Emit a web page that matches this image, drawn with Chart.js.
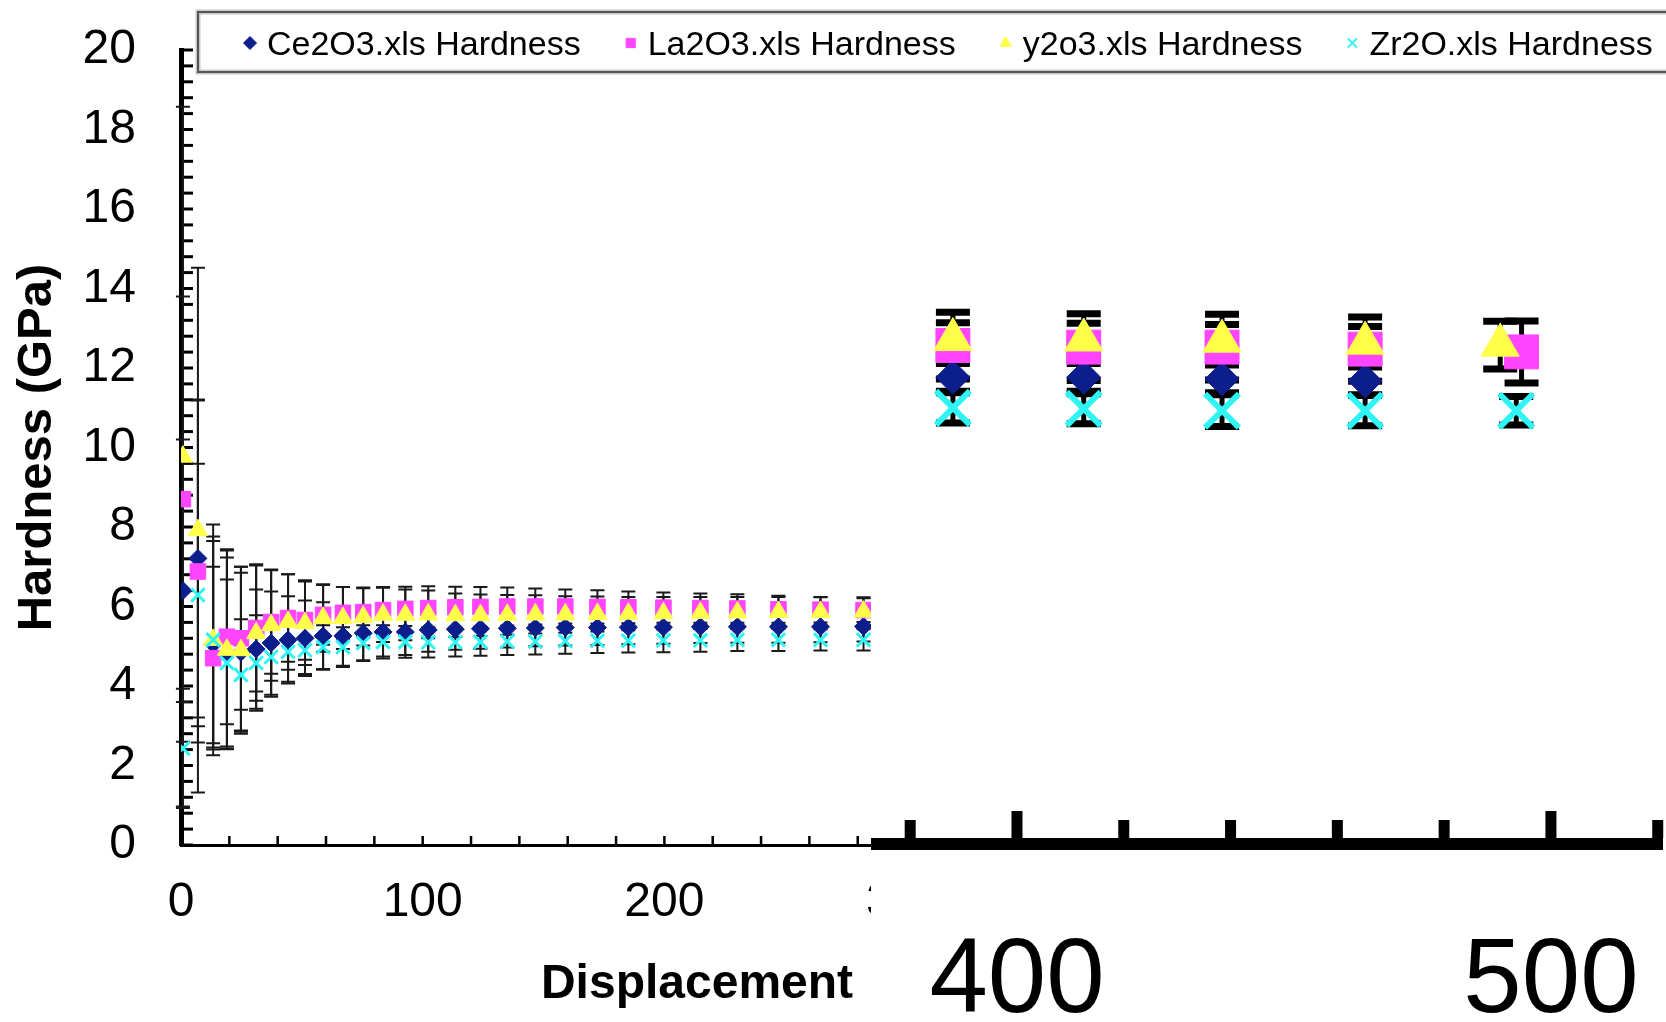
<!DOCTYPE html>
<html>
<head>
<meta charset="utf-8">
<script src="https://cdn.jsdelivr.net/npm/chart.js@4.4.1/dist/chart.umd.min.js"></script>
<style>
  body { margin: 0; background: #fff; }
  #wrap { position: relative; width: 1666px; height: 1022px; overflow: hidden; }
  #mainChart { position: absolute; left: 0; top: 0; }
  #insetChart { position: absolute; left: 871px; top: 80px; background: #fff; }
</style>
</head>
<body>
<div id="wrap">
  <canvas id="mainChart" width="1666" height="1022"></canvas>
  <canvas id="insetChart" width="795" height="942"></canvas>
</div>
<script>
// --- data: main panel (displacement 0..300 nm) ---
const seriesNames = ['Ce2O3.xls Hardness', 'La2O3.xls Hardness', 'y2o3.xls Hardness', 'Zr2O.xls Hardness'];

const displacement = [0.8, 7, 13.3, 19, 24.8, 31.1, 37.3, 44.3, 51.3, 58.8, 67, 75.4, 83.6, 92.8,
  102.3, 113.5, 123.9, 135, 146.6, 159, 172.3, 185.1, 199.6, 214.9, 230.2, 247.2, 264.6, 282.4];

const ceHardness = [6.40, 7.21, 5.05, 4.83, 4.85, 4.93, 5.08, 5.16, 5.20, 5.26, 5.26, 5.33, 5.36, 5.36,
  5.41, 5.43, 5.44, 5.45, 5.46, 5.47, 5.47, 5.48, 5.48, 5.49, 5.49, 5.49, 5.49, 5.50];
const laHardness = [8.70, 6.88, 4.70, 5.24, 5.20, 5.46, 5.61, 5.71, 5.66, 5.79, 5.84, 5.86, 5.91, 5.94,
  5.96, 5.98, 5.99, 6.00, 6.00, 6.00, 5.99, 5.98, 5.97, 5.96, 5.95, 5.93, 5.92, 5.91];
const yHardness = [9.77, 7.92, 5.16, 4.91, 4.90, 5.33, 5.53, 5.61, 5.58, 5.71, 5.71, 5.74, 5.79, 5.79,
  5.80, 5.78, 5.78, 5.79, 5.80, 5.80, 5.81, 5.82, 5.83, 5.84, 5.85, 5.86, 5.86, 5.87];
const zrHardness = [2.43, 6.29, 5.16, 4.58, 4.28, 4.58, 4.73, 4.86, 4.90, 4.98, 4.98, 5.08, 5.11, 5.11,
  5.10, 5.10, 5.11, 5.12, 5.12, 5.13, 5.14, 5.14, 5.15, 5.15, 5.16, 5.16, 5.16, 5.16];

const ceErr = [3.8, 4.0, 2.6, 2.4, 2.0, 1.5, 1.3, 1.1, 0.95, 0.85, 0.75, 0.68, 0.62, 0.58,
  0.55, 0.52, 0.5, 0.48, 0.46, 0.45, 0.44, 0.43, 0.42, 0.41, 0.4, 0.4, 0.39, 0.38];
const laErr = [5.1, 4.3, 2.3, 2.2, 1.8, 1.6, 1.3, 1.1, 1.0, 0.75, 0.65, 0.62, 0.58, 0.56,
  0.55, 0.52, 0.5, 0.48, 0.45, 0.43, 0.42, 0.4, 0.38, 0.37, 0.36, 0.34, 0.32, 0.3];
const yErr = [8.8, 6.6, 2.9, 2.5, 2.1, 1.7, 1.4, 1.2, 1.05, 0.85, 0.78, 0.72, 0.68, 0.64,
  0.6, 0.55, 0.52, 0.5, 0.48, 0.46, 0.44, 0.42, 0.41, 0.4, 0.39, 0.38, 0.37, 0.36];
const zrErr = [1.5, 3.3, 2.6, 2.1, 1.4, 1.2, 1.0, 0.75, 0.6, 0.55, 0.5, 0.45, 0.42, 0.4,
  0.38, 0.36, 0.35, 0.34, 0.33, 0.32, 0.31, 0.3, 0.3, 0.29, 0.28, 0.28, 0.27, 0.27];

// --- data: enlarged right panel (displacement ~380..520 nm) ---
const ceInsetX = [388, 412.5, 438.4, 465.2];
const ceInsetY = [11.74, 11.74, 11.70, 11.65];
const ceInsetErr = [0.35, 0.35, 0.35, 0.35];
const laInsetX = [388, 412.5, 438.4, 465.2, 494.5];
const laInsetY = [12.54, 12.50, 12.50, 12.45, 12.38];
const laInsetErr = [0.84, 0.84, 0.83, 0.81, 0.78];
const yInsetX = [388, 412.5, 438.4, 465.2, 490.5];
const yInsetY = [12.69, 12.68, 12.65, 12.60, 12.55];
const yInsetErr = [0.42, 0.42, 0.42, 0.42, 0.6];
const zrInsetX = [388, 412.5, 438.4, 465.2, 493.5];
const zrInsetY = [10.97, 10.95, 10.90, 10.90, 10.90];
const zrInsetErr = [0.38, 0.38, 0.4, 0.38, 0.36];

const FONT = "'Liberation Sans', Arial, sans-serif";
const colors = ['#0b1e8c', '#ff45ff', '#ffff4a', '#30f4f4'];
const shapes = ['rectRot', 'rect', 'triangle', 'crossRot'];
const HIDDEN = 'rgba(0,0,0,0)';

function toPoints(xs, ys) {
  return xs.map((x, i) => ({x: x, y: ys[i]}));
}

function onStep(v, step) {
  const r = v / step;
  return Math.abs(r - Math.round(r)) < 1e-6;
}

// black I-beam error bars, drawn under the markers
const errorBarPlugin = {
  id: 'errorBars',
  beforeDatasetsDraw(chart, args, opts) {
    const ctx = chart.ctx;
    const xs = chart.scales.x, ys = chart.scales.y;
    ctx.save();
    ctx.strokeStyle = opts.color;
    chart.data.datasets.forEach(ds => {
      (ds.errorBars || []).forEach((e, i) => {
        const pt = ds.data[i];
        const px = xs.getPixelForValue(pt.x);
        const top = ys.getPixelForValue(pt.y + e);
        const bot = ys.getPixelForValue(pt.y - e);
        ctx.lineWidth = opts.width;
        ctx.beginPath();
        ctx.moveTo(px, top);
        ctx.lineTo(px, bot);
        ctx.stroke();
        ctx.lineWidth = opts.capWidth;
        ctx.beginPath();
        ctx.moveTo(px - opts.cap, top);
        ctx.lineTo(px + opts.cap, top);
        ctx.moveTo(px - opts.cap, bot);
        ctx.lineTo(px + opts.cap, bot);
        ctx.stroke();
      });
    });
    ctx.restore();
  }
};

// inward tick marks on the main panel axes
const mainTicks = {
  id: 'mainTicks',
  beforeDatasetsDraw(chart) {
    const {ctx, chartArea} = chart;
    const xs = chart.scales.x, ys = chart.scales.y;
    ctx.save();
    ctx.strokeStyle = '#000';
    ctx.lineWidth = 3;
    ys.ticks.forEach(t => {
      const py = ys.getPixelForValue(t.value);
      ctx.beginPath();
      ctx.moveTo(chartArea.left, py);
      ctx.lineTo(chartArea.left + 12, py);
      ctx.stroke();
    });
    ctx.lineWidth = 2.5;
    xs.ticks.forEach(t => {
      if (!onStep(t.value, 20)) return;
      const px = xs.getPixelForValue(t.value);
      ctx.beginPath();
      ctx.moveTo(px, chartArea.bottom);
      ctx.lineTo(px, chartArea.bottom - 9);
      ctx.stroke();
    });
    ctx.restore();
  }
};

// boxed legend across the top
const legendBox = {
  id: 'legendBox',
  afterDraw(chart) {
    const ctx = chart.ctx;
    ctx.save();
    ctx.fillStyle = '#fff';
    ctx.fillRect(198, 12, 1500, 60);
    ctx.strokeStyle = '#c8c8c8';
    ctx.lineWidth = 5;
    ctx.strokeRect(198, 12, 1500, 60);
    ctx.strokeStyle = '#555';
    ctx.lineWidth = 2;
    ctx.strokeRect(198, 12, 1500, 60);
    ctx.font = '34px ' + FONT;
    ctx.textBaseline = 'middle';
    let x = 250;
    chart.data.datasets.forEach(ds => {
      ctx.fillStyle = ds.backgroundColor;
      ctx.strokeStyle = ds.borderColor;
      ctx.lineWidth = ds.pointStyle === 'crossRot' ? 2 : 1;
      Chart.helpers.drawPoint(ctx, {pointStyle: ds.pointStyle, radius: 6.5, rotation: 0,
        borderWidth: ctx.lineWidth}, x, 43);
      ctx.fillStyle = '#000';
      ctx.fillText(ds.label, x + 17, 46);
      x += 17 + ctx.measureText(ds.label).width + 50;
    });
    ctx.restore();
  }
};

// tick blocks on the enlarged panel axis
const insetTicks = {
  id: 'insetTicks',
  afterDraw(chart) {
    const {ctx, chartArea} = chart;
    const xs = chart.scales.x;
    const axisTop = chartArea.bottom - 6;
    ctx.save();
    ctx.fillStyle = '#000';
    xs.ticks.forEach(t => {
      if (!onStep(t.value, 20)) return;
      const px = xs.getPixelForValue(t.value);
      const h = onStep(t.value, 100) ? 27 : 18;
      ctx.fillRect(px - 5.5, axisTop - h, 11, h);
    });
    ctx.restore();
  }
};

const mainSets = [
  [ceHardness, ceErr, 9, 1],
  [laHardness, laErr, 11, 1],
  [yHardness, yErr, 11, 1],
  [zrHardness, zrErr, 9.5, 3]
].map((s, i) => ({
  label: seriesNames[i],
  data: toPoints(displacement, s[0]),
  errorBars: s[1],
  pointStyle: shapes[i],
  pointRadius: s[2],
  pointBorderWidth: s[3],
  backgroundColor: colors[i],
  borderColor: colors[i],
  order: 4 - i
}));

new Chart(document.getElementById('mainChart'), {
  type: 'scatter',
  data: {datasets: mainSets},
  options: {
    responsive: false,
    animation: false,
    layout: {autoPadding: false, padding: {top: 50, right: 453, bottom: 0, left: 0}},
    plugins: {
      legend: {display: false},
      tooltip: {enabled: false},
      errorBars: {color: '#1a1a1a', width: 2, capWidth: 2, cap: 7}
    },
    scales: {
      x: {
        type: 'linear',
        min: 0,
        max: 427,
        afterFit: s => { s.height = 177; },
        border: {display: true, color: '#000', width: 3},
        grid: {display: true, drawOnChartArea: false, drawTicks: true, tickLength: 29, tickColor: HIDDEN},
        ticks: {
          stepSize: 20, autoSkip: false, includeBounds: false, maxRotation: 0, minRotation: 0,
          padding: 0, color: '#000', font: {family: FONT, size: 48},
          callback: v => onStep(v, 100) ? String(Math.round(v)) : ''
        },
        title: {
          display: true, text: 'Displacement', color: '#000',
          font: {family: FONT, size: 48, weight: 'bold'},
          padding: {top: 0, bottom: 8}
        }
      },
      y: {
        min: 0,
        max: 20,
        afterFit: s => { s.width = 181; },
        border: {display: true, color: '#000', width: 5},
        grid: {display: true, drawOnChartArea: false, drawTicks: true, tickLength: 45, tickColor: HIDDEN},
        ticks: {
          stepSize: 0.4, autoSkip: false, padding: 0, color: '#000',
          font: {family: FONT, size: 48},
          callback: v => onStep(v, 2) ? String(Math.round(v)) : ''
        },
        title: {
          display: true, text: 'Hardness (GPa)', color: '#000',
          font: {family: FONT, size: 49, weight: 'bold'},
          padding: {top: 8, bottom: 0}
        }
      }
    }
  },
  plugins: [mainTicks, errorBarPlugin, legendBox]
});

const insetSets = [
  [ceInsetX, ceInsetY, ceInsetErr, 17, 1],
  [laInsetX, laInsetY, laInsetErr, 24, 1],
  [yInsetX, yInsetY, yInsetErr, 22, 1],
  [zrInsetX, zrInsetY, zrInsetErr, 24, 6]
].map((s, i) => ({
  label: seriesNames[i],
  data: toPoints(s[0], s[1]),
  errorBars: s[2],
  pointStyle: shapes[i],
  pointRadius: s[3],
  pointBorderWidth: s[4],
  backgroundColor: colors[i],
  borderColor: colors[i],
  order: 4 - i
}));

new Chart(document.getElementById('insetChart'), {
  type: 'scatter',
  data: {datasets: insetSets},
  options: {
    responsive: false,
    animation: false,
    layout: {autoPadding: false, padding: {top: 0, left: 0, bottom: 0, right: 4}},
    plugins: {
      legend: {display: false},
      tooltip: {enabled: false},
      errorBars: {color: '#000', width: 5, capWidth: 7, cap: 17}
    },
    scales: {
      x: {
        type: 'linear',
        min: 372.66,
        max: 520.8,
        afterFit: s => { s.height = 178; },
        border: {display: true, color: '#000', width: 12},
        grid: {display: true, drawOnChartArea: false, drawTicks: true, tickLength: 76, tickColor: HIDDEN},
        ticks: {
          stepSize: 20, autoSkip: false, includeBounds: false, maxRotation: 0, minRotation: 0,
          padding: 0, color: '#000', font: {family: FONT, size: 105},
          callback: v => onStep(v, 100) ? String(Math.round(v)) : ''
        }
      },
      y: {display: false, min: 0, max: 19.22, ticks: {display: false}}
    }
  },
  plugins: [errorBarPlugin, insetTicks]
});
</script>
</body>
</html>
